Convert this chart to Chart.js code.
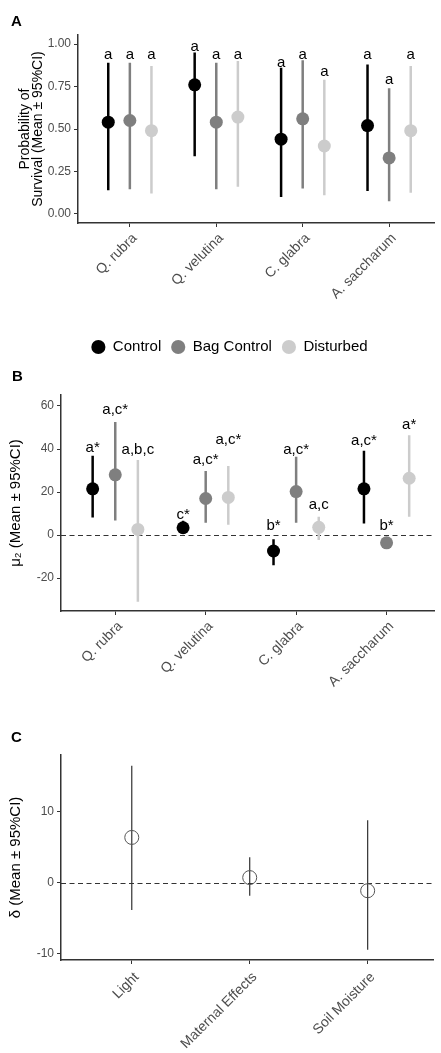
<!DOCTYPE html>
<html>
<head>
<meta charset="utf-8">
<script src="https://cdn.jsdelivr.net/npm/chart.js@4.4.1/dist/chart.umd.min.js"></script>
<style>
  html, body { margin: 0; padding: 0; background: #fff; }
  body { width: 441px; height: 1053px; position: relative; overflow: hidden; }
  canvas { position: absolute; left: 0; }
</style>
</head>
<body>
<canvas id="chartA" width="441" height="365" style="top:0"></canvas>
<canvas id="chartB" width="441" height="335" style="top:365px"></canvas>
<canvas id="chartC" width="441" height="353" style="top:700px"></canvas>
<script>
// Категории
const species = ['Q. rubra', 'Q. velutina', 'C. glabra', 'A. saccharum'];
const treatments = ['Control', 'Bag Control', 'Disturbed'];
const factors = ['Light', 'Maternal Effects', 'Soil Moisture'];

// A: вероятность выживания
const survControl = [0.54, 0.76, 0.44, 0.52];
const survControlLo = [0.14, 0.34, 0.10, 0.135];
const survControlHi = [0.89, 0.95, 0.86, 0.88];
const survBag = [0.55, 0.54, 0.56, 0.33];
const survBagLo = [0.145, 0.145, 0.15, 0.075];
const survBagHi = [0.89, 0.89, 0.905, 0.74];
const survDist = [0.49, 0.57, 0.40, 0.49];
const survDistLo = [0.12, 0.16, 0.11, 0.125];
const survDistHi = [0.87, 0.90, 0.79, 0.87];
const survLetters = [['a', 'a', 'a', 'a'], ['a', 'a', 'a', 'a'], ['a', 'a', 'a', 'a']];
const survLetterY = [[0.935, 0.985, 0.89, 0.935], [0.935, 0.935, 0.935, 0.79], [0.935, 0.935, 0.835, 0.935]];
const survTicks = [0, 0.25, 0.5, 0.75, 1];

// B: mu2
const muControl = [21.5, 3.4, -7.4, 21.5];
const muControlLo = [8.2, 1.0, -14.0, 5.4];
const muControlHi = [36.9, 6.7, -2.0, 39.2];
const muBag = [28.0, 17.0, 20.2, -3.6];
const muBagLo = [6.8, 5.7, 5.7, -5.5];
const muBagHi = [52.6, 29.8, 36.4, -1.5];
const muDist = [2.6, 17.5, 3.6, 26.4];
const muDistLo = [-31.0, 4.8, -2.3, 8.5];
const muDistHi = [34.9, 32.1, 8.5, 46.4];
const muLetters = [['a*', 'c*', 'b*', 'a,c*'], ['a,c*', 'a,c*', 'a,c*', 'b*'], ['a,b,c', 'a,c*', 'a,c', 'a*']];
const muLetterY = [[40.3, 9.3, 4.2, 43.9], [58.1, 34.9, 39.5, 4.2], [39.5, 44.2, 14.0, 51.2]];
const muTicks = [-20, 0, 20, 40, 60];

// C: delta
const delta = [6.4, 0.75, -1.1];
const deltaLo = [-3.8, -1.8, -9.4];
const deltaHi = [16.5, 3.6, 8.8];
const deltaTicks = [-10, 0, 10];

const FONT = '"Liberation Sans", Arial, Helvetica, sans-serif';
Chart.defaults.font.family = FONT;

const colors = ['#000000', '#7f7f7f', '#cccccc'];
const dodge = [-0.25, 0, 0.25];

function pointSet(label, means, k, color) {
  return {
    label,
    data: means.map((v, i) => ({ x: i + 1 + dodge[k], y: v })),
    pointRadius: 6.5, pointHoverRadius: 6.5,
    backgroundColor: color, borderColor: color, borderWidth: 0,
    pointStyle: 'circle', order: 0
  };
}

function barSet(lo, hi, k, color, width) {
  const data = [];
  lo.forEach((v, i) => {
    const x = i + 1 + dodge[k];
    data.push({ x, y: v }, { x, y: hi[i] }, { x, y: null });
  });
  return {
    label: 'ci',
    data, showLine: true, spanGaps: false,
    borderColor: color, borderWidth: width,
    pointRadius: 0, pointHoverRadius: 0, order: 1
  };
}

// Буквы над интервалами
function lettersPlugin(text, at) {
  return {
    id: 'letters',
    afterDatasetsDraw(chart) {
      const { ctx, scales: { x, y } } = chart;
      ctx.save();
      ctx.font = '15px ' + FONT;
      ctx.fillStyle = '#000';
      ctx.textAlign = 'center';
      ctx.textBaseline = 'middle';
      text.forEach((row, k) => row.forEach((t, i) => {
        ctx.fillText(t, x.getPixelForValue(i + 1 + dodge[k]), y.getPixelForValue(at[k][i]));
      }));
      ctx.restore();
    }
  };
}

function zeroLine() {
  return {
    id: 'zeroLine',
    beforeDatasetsDraw(chart) {
      const { ctx, chartArea: a, scales: { y } } = chart;
      const py = Math.round(y.getPixelForValue(0)) + 0.5;
      ctx.save();
      ctx.strokeStyle = '#333';
      ctx.lineWidth = 1.2;
      ctx.setLineDash([5, 3.5]);
      ctx.beginPath();
      ctx.moveTo(a.left, py);
      ctx.lineTo(a.right, py);
      ctx.stroke();
      ctx.restore();
    }
  };
}

function panelTag(letter, x, y) {
  return {
    id: 'panelTag',
    afterDraw(chart) {
      const ctx = chart.ctx;
      ctx.save();
      ctx.font = 'bold 15px ' + FONT;
      ctx.fillStyle = '#000';
      ctx.fillText(letter, x, y);
      ctx.restore();
    }
  };
}

function makeChart(id, cfg) {
  return new Chart(document.getElementById(id), {
    type: 'scatter',
    data: { datasets: cfg.datasets },
    options: {
      responsive: false,
      animation: false,
      events: [],
      layout: { padding: cfg.padding },
      plugins: {
        legend: cfg.legend || { display: false },
        tooltip: { enabled: false }
      },
      scales: {
        x: {
          type: 'linear', min: 0.4, max: cfg.xMax,
          afterBuildTicks: s => { s.ticks = cfg.cats.map((c, i) => ({ value: i + 1 })); },
          afterFit: s => { s.height = cfg.xHeight; },
          ticks: {
            autoSkip: false, minRotation: 45, maxRotation: 45,
            padding: cfg.xPad, labelOffset: 5,
            color: '#4d4d4d', font: { size: 14 },
            callback: v => cfg.cats[Math.round(v) - 1]
          },
          grid: { drawOnChartArea: false, drawTicks: true, tickLength: 4, color: '#333' },
          border: { display: true, color: '#333', width: 1.5 }
        },
        y: {
          min: cfg.yMin, max: cfg.yMax,
          afterBuildTicks: s => { s.ticks = cfg.yTicks.map(v => ({ value: v })); },
          afterFit: s => { s.width = cfg.yWidth; },
          ticks: { color: '#4d4d4d', font: { size: 12 }, padding: 3, callback: cfg.yFormat },
          grid: { drawOnChartArea: false, drawTicks: true, tickLength: 4, color: '#333' },
          border: { display: true, color: '#333', width: 1.5 },
          title: {
            display: true, text: cfg.yTitle, color: '#000',
            font: { size: cfg.titleSize, lineHeight: cfg.titleLine },
            padding: { top: cfg.titlePad, bottom: 0 }
          }
        }
      }
    },
    plugins: cfg.plugins
  });
}

// Панель A
makeChart('chartA', {
  datasets: [
    pointSet(treatments[0], survControl, 0, colors[0]),
    pointSet(treatments[1], survBag, 1, colors[1]),
    pointSet(treatments[2], survDist, 2, colors[2]),
    barSet(survControlLo, survControlHi, 0, colors[0], 2.5),
    barSet(survBagLo, survBagHi, 1, colors[1], 2.5),
    barSet(survDistLo, survDistHi, 2, colors[2], 2.5)
  ],
  cats: species,
  padding: { top: 35, left: 18, right: 0, bottom: 0.5 },
  xMax: 4.525, xHeight: 106.5, xPad: 3,
  yMin: -0.053, yMax: 1.053, yTicks: survTicks, yWidth: 60,
  yFormat: v => v.toFixed(2),
  yTitle: ['Probability of', 'Survival (Mean ± 95%CI)'],
  titleSize: 14, titleLine: 0.95, titlePad: 0,
  legend: {
    display: true, position: 'bottom',
    labels: {
      usePointStyle: true, pointStyle: 'circle', boxWidth: 14, boxHeight: 10,
      padding: 10, color: '#000', font: { size: 15 },
      filter: it => it.datasetIndex < 3
    }
  },
  plugins: [lettersPlugin(survLetters, survLetterY), panelTag('A', 11, 22)]
});

// Панель B
makeChart('chartB', {
  datasets: [
    pointSet(treatments[0], muControl, 0, colors[0]),
    pointSet(treatments[1], muBag, 1, colors[1]),
    pointSet(treatments[2], muDist, 2, colors[2]),
    barSet(muControlLo, muControlHi, 0, colors[0], 2.5),
    barSet(muBagLo, muBagHi, 1, colors[1], 2.5),
    barSet(muDistLo, muDistHi, 2, colors[2], 2.5)
  ],
  cats: species,
  padding: { top: 30, left: 0, right: 0, bottom: 0 },
  xMax: 4.53, xHeight: 89, xPad: 3,
  yMin: -35.3, yMax: 65.1, yTicks: muTicks, yWidth: 61,
  yFormat: v => String(v),
  yTitle: 'μ\u2082 (Mean ± 95%CI)',
  titleSize: 15, titleLine: 1.2, titlePad: 7,
  plugins: [zeroLine(), lettersPlugin(muLetters, muLetterY), panelTag('B', 12, 16)]
});

// Панель C
makeChart('chartC', {
  datasets: [
    {
      label: 'delta',
      data: delta.map((v, i) => ({ x: i + 1, y: v })),
      pointRadius: 7, pointHoverRadius: 7,
      backgroundColor: 'rgba(0,0,0,0)', borderColor: '#555', borderWidth: 1, order: 0
    },
    {
      label: 'ci',
      data: deltaLo.flatMap((v, i) => [{ x: i + 1, y: v }, { x: i + 1, y: deltaHi[i] }, { x: i + 1, y: null }]),
      showLine: true, spanGaps: false, borderColor: '#333', borderWidth: 1.2,
      pointRadius: 0, pointHoverRadius: 0, order: 1
    }
  ],
  cats: factors,
  padding: { top: 55, left: 0, right: 0, bottom: 0 },
  xMax: 3.554, xHeight: 93, xPad: 5,
  yMin: -10.85, yMax: 18.0, yTicks: deltaTicks, yWidth: 61,
  yFormat: v => String(v),
  yTitle: 'δ (Mean ± 95%CI)',
  titleSize: 15, titleLine: 1.2, titlePad: 7,
  plugins: [zeroLine(), panelTag('C', 11, 42)]
});
</script>
</body>
</html>
